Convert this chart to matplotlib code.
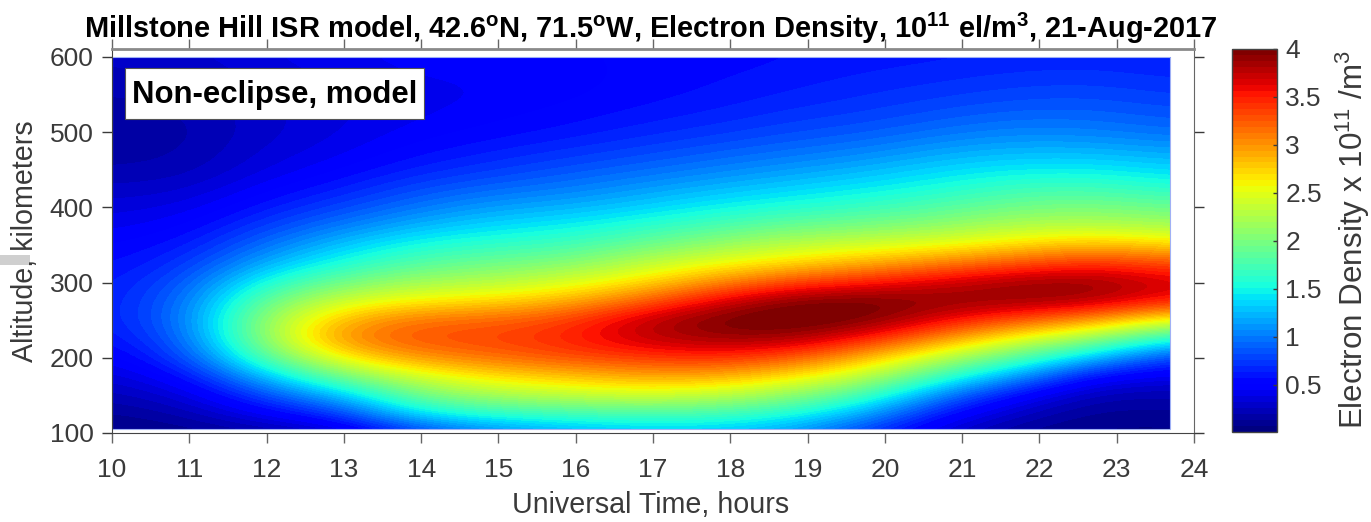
import numpy as np
import matplotlib
matplotlib.use('Agg')
import matplotlib.pyplot as plt
from matplotlib.patches import Rectangle

plt.rcParams['font.family'] = ['Liberation Sans', 'DejaVu Sans']
plt.rcParams['mathtext.fontset'] = 'custom'
plt.rcParams['mathtext.rm'] = 'Liberation Sans'
plt.rcParams['mathtext.bf'] = 'Liberation Sans:bold'

W, H = 1371, 522

x_ticks = list(range(10, 25))
y_ticks = [100, 200, 300, 400, 500, 600]
cbar_ticks = [0.5, 1, 1.5, 2, 2.5, 3, 3.5, 4]
cbar_labels = ['0.5', '1', '1.5', '2', '2.5', '3', '3.5', '4']

# values, one line per hour column (evenly spaced, so imshow can smooth them)
hours = [10, 10.98, 11.96, 12.93, 13.91, 14.89, 15.87, 16.85, 17.82, 18.8, 19.78, 20.76, 21.73, 22.71, 23.69]
altitudes = [100, 125, 150, 175, 200, 225, 250, 275, 300, 325, 350, 375, 400, 425, 450, 475, 500, 525, 550, 575, 600]
density = [
    [.04, .12, .22, .33, .45, .55, .62, .62, .60, .55, .50, .42, .35, .27, .20, .16, .13, .16, .20, .24, .28],
    [.08, .20, .35, .55, .78, .92, .98, .95, .85, .72, .60, .50, .40, .30, .22, .19, .18, .20, .22, .26, .30],
    [.15, .45, .80, 1.25, 1.8, 2.1, 2.12, 1.9, 1.55, 1.2, .95, .75, .60, .48, .38, .33, .30, .30, .32, .35, .38],
    [.25, .72, 1.25, 1.95, 2.6, 3.05, 2.85, 2.4, 1.95, 1.55, 1.28, 1.0, .78, .62, .50, .42, .38, .37, .38, .40, .42],
    [.70, 1.4, 1.95, 2.42, 3.0, 3.3, 3.15, 2.62, 2.18, 1.82, 1.53, 1.23, .98, .80, .64, .54, .47, .43, .42, .45, .48],
    [1.0, 1.6, 2.22, 2.68, 3.15, 3.35, 3.2, 2.7, 2.28, 1.94, 1.64, 1.37, 1.14, .92, .74, .62, .53, .48, .45, .46, .48],
    [1.15, 1.7, 2.33, 2.8, 3.3, 3.48, 3.35, 2.88, 2.43, 2.04, 1.71, 1.46, 1.21, 1.0, .84, .70, .59, .53, .49, .49, .50],
    [1.25, 1.75, 2.43, 2.93, 3.4, 3.75, 3.75, 3.2, 2.7, 2.3, 1.92, 1.6, 1.33, 1.12, .93, .78, .66, .59, .54, .52, .52],
    [1.25, 1.71, 2.33, 2.91, 3.46, 3.88, 4.02, 3.65, 3.04, 2.55, 2.12, 1.77, 1.47, 1.24, 1.03, .87, .73, .64, .59, .56, .54],
    [1.1, 1.55, 2.1, 2.66, 3.28, 3.85, 4.12, 3.98, 3.35, 2.72, 2.31, 1.92, 1.58, 1.34, 1.13, .95, .81, .71, .64, .60, .57],
    [.70, 1.15, 1.7, 2.3, 2.85, 3.5, 4.0, 4.02, 3.52, 2.9, 2.42, 1.99, 1.68, 1.44, 1.23, 1.03, .87, .76, .69, .64, .60],
    [.30, .55, 1.0, 1.65, 2.3, 3.0, 3.62, 3.92, 3.7, 3.1, 2.53, 2.11, 1.81, 1.56, 1.36, 1.16, .97, .84, .74, .67, .62],
    [.10, .25, .50, 1.1, 1.8, 2.5, 3.28, 3.9, 3.88, 3.3, 2.7, 2.26, 1.96, 1.7, 1.44, 1.23, 1.04, .90, .79, .71, .64],
    [.05, .10, .20, .50, 1.25, 2.1, 3.0, 3.82, 3.92, 3.45, 2.85, 2.3, 2.0, 1.72, 1.45, 1.22, 1.02, .90, .80, .72, .65],
    [.05, .12, .20, .40, .75, 1.5, 2.5, 3.5, 3.68, 3.3, 2.7, 2.2, 1.9, 1.6, 1.35, 1.15, .95, .84, .75, .68, .62],
]
lowest_altitude = 105


def box(left, top, right, bottom):
    return [left / W, 1 - bottom / H, (right - left) / W, (bottom - top) / H]


text_col = '#3a3a3a'
fig = plt.figure(figsize=(W / 100, H / 100), dpi=100)
fig.patches.append(Rectangle((0, 1 - 265 / H), 30 / W, 10 / H, transform=fig.transFigure,
                             color='#cfcfcf', lw=0))

ax = fig.add_axes(box(112, 48.7, 1194, 433))
dt = hours[1] - hours[0]
da = altitudes[1] - altitudes[0]
im = ax.imshow(np.array(density).T, origin='lower', aspect='auto', cmap=plt.get_cmap('jet', 64),
               vmin=0.01, vmax=4, interpolation='bicubic', interpolation_stage='data',
               extent=(hours[0] - dt / 2, hours[-1] + dt / 2, altitudes[0] - da / 2, altitudes[-1] + da / 2))
edge = Rectangle((hours[0], lowest_altitude), hours[-1] - hours[0], altitudes[-1] - lowest_altitude,
                 transform=ax.transData, facecolor='none', edgecolor='#9fb0f5', lw=0.8)
ax.add_patch(edge)
im.set_clip_path(edge)
ax.set_xlim(10, 24)
ax.set_ylim(100, 611)
ax.set_xticks(x_ticks)
ax.set_yticks(y_ticks)
ax.tick_params(axis='both', length=7.2, width=1, direction='out', labelsize=19,
               colors=text_col, top=True, right=True, pad=6)
ax.tick_params(axis='x', pad=11, color='#666666')
ax.spines['top'].set_color('#8a8a8a')
ax.spines['top'].set_linewidth(2)
ax.spines['right'].set_color('#666666')
ax.spines['left'].set_color('#444444')
ax.spines['bottom'].set_color('#444444')

fig.text(651 / W, 1 - 505 / H, 'Universal Time, hours', fontsize=20.6, color=text_col,
         ha='center', va='center')
fig.text(25 / W, 1 - 241 / H, 'Altitude, kilometers', fontsize=20.6, color=text_col,
         rotation=90, ha='center', va='center')
fig.text(84 / W, 1 - 38 / H,
         r'Millstone Hill ISR model, 42.6$^{\mathbf{o}}$N, 71.5$^{\mathbf{o}}$W, Electron Density, '
         r'10$^{\mathbf{11}}$ el/m$^{\mathbf{3}}$, 21-Aug-2017',
         fontsize=20.9, fontweight='bold', color='black', ha='left', va='baseline')

# label box
fig.patches.append(Rectangle((124.5 / W, 1 - 119 / H), 300 / W, 51 / H, transform=fig.transFigure,
                             facecolor='white', edgecolor='#555555', lw=0.8, zorder=5))
fig.text(274.5 / W, 1 - 95 / H, 'Non-eclipse, model', fontsize=22.4, fontweight='bold', color='black',
         ha='center', va='center', zorder=6)

cax = fig.add_axes(box(1232, 48.7, 1277, 432))
cb = fig.colorbar(im, cax=cax)
cb.set_ticks(cbar_ticks)
cb.set_ticklabels(cbar_labels)
cax.tick_params(axis='y', length=3, width=1, direction='in', labelsize=19, colors=text_col, pad=6)
cb.outline.set_edgecolor('#444444')
cb.outline.set_linewidth(1)
fig.text(1353 / W, 1 - 239 / H, r'Electron Density x 10$^{11}$ /m$^{3}$', fontsize=22.6,
         color=text_col, rotation=90, ha='center', va='center')

fig.savefig('out.png', dpi=100)
